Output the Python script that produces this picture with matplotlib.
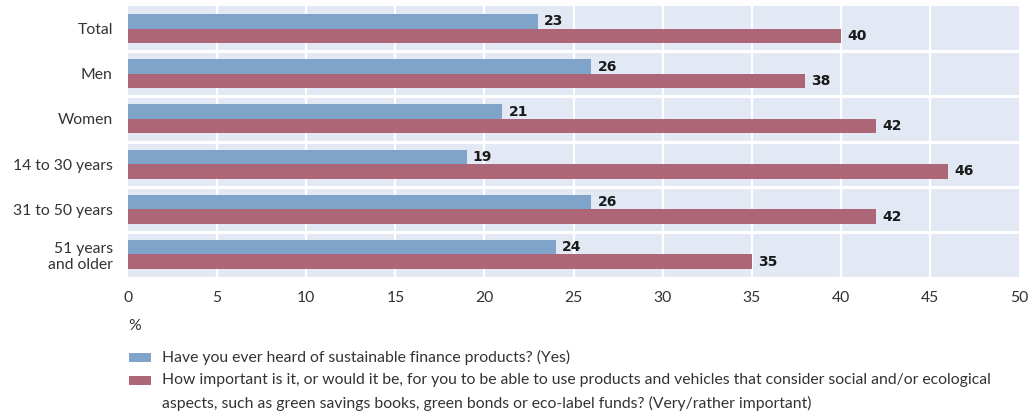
# import packages
import numpy as np
import matplotlib.pyplot as plt
from matplotlib.patches import Rectangle

# data
categories = ["Total", "Men", "Women", "14 to 30 years", "31 to 50 years", "51 years\nand older"]
heard_yes = [23, 26, 21, 19, 26, 24]
important = [40, 38, 42, 46, 42, 35]
x_ticks = [0, 5, 10, 15, 20, 25, 30, 35, 40, 45, 50]
legend_labels = [
    "Have you ever heard of sustainable finance products? (Yes)",
    "How important is it, or would it be, for you to be able to use products and vehicles that consider social and/or ecological\n"
    "aspects, such as green savings books, green bonds or eco-label funds? (Very/rather important)",
]

# colours
blue = "#7fa3c9"
red = "#ad6677"
bg = "#e2e8f4"
txt = "#333333"

plt.rcParams["font.family"] = ["Lato", "DejaVu Sans"]

fig = plt.figure(figsize=(10.31, 4.16), dpi=100)
ax = fig.add_axes([0.1242, 0.334, 0.8642, 0.6516])
ax.set_facecolor(bg)

y = np.arange(len(categories))
h = 0.32
ax.barh(y - h / 2, heard_yes, height=h, color=blue, zorder=3)
ax.barh(y + h / 2, important, height=h, color=red, zorder=3)

# value labels
for yi, v in zip(y, heard_yes):
    ax.text(v + 0.35, yi - h / 2, str(v), va="center", ha="left", fontsize=10,
            fontweight="bold", family="DejaVu Sans", color="#1a1a1a", zorder=4)
for yi, v in zip(y, important):
    ax.text(v + 0.35, yi + h / 2, str(v), va="center", ha="left", fontsize=10,
            fontweight="bold", family="DejaVu Sans", color="#1a1a1a", zorder=4)

# grid: vertical white lines at ticks, horizontal separators between groups
for xt in x_ticks[1:-1]:
    ax.axvline(xt, color="white", lw=1.6, zorder=1)
for sep in np.arange(0.5, len(categories) - 1, 1.0):
    ax.axhline(sep, color="white", lw=2.2, zorder=1)

ax.set_xlim(0, 50)
ax.set_ylim(len(categories) - 0.5, -0.5)
ax.set_xticks(x_ticks)
ax.set_yticks(y)
ax.set_yticklabels(categories, ha="right", multialignment="right")
ax.tick_params(axis="both", length=0, labelsize=11.3, labelcolor=txt)
ax.tick_params(axis="x", pad=10)
ax.tick_params(axis="y", pad=11)
for s in ax.spines.values():
    s.set_visible(False)

fig.text(0.1242, 0.217, "%", fontsize=11.3, color=txt, va="center", ha="left")

# legend drawn by hand
lx = 129 / 1031
tx = 162 / 1031
pw = 22 / 1031
ph = 9 / 416
rows = [357, 380]
for row, col, lab in zip(rows, [blue, red], legend_labels):
    yc = 1 - row / 416
    fig.patches.append(Rectangle((lx, yc - ph / 2), pw, ph, transform=fig.transFigure,
                                 facecolor=col, edgecolor="none"))
    fig.text(tx, yc, lab.split("\n")[0], fontsize=11.3, color=txt, va="center", ha="left")
    if "\n" in lab:
        fig.text(tx, 1 - (row + 23) / 416, lab.split("\n")[1], fontsize=11.3, color=txt,
                 va="center", ha="left")

fig.savefig("out.png", dpi=100)
